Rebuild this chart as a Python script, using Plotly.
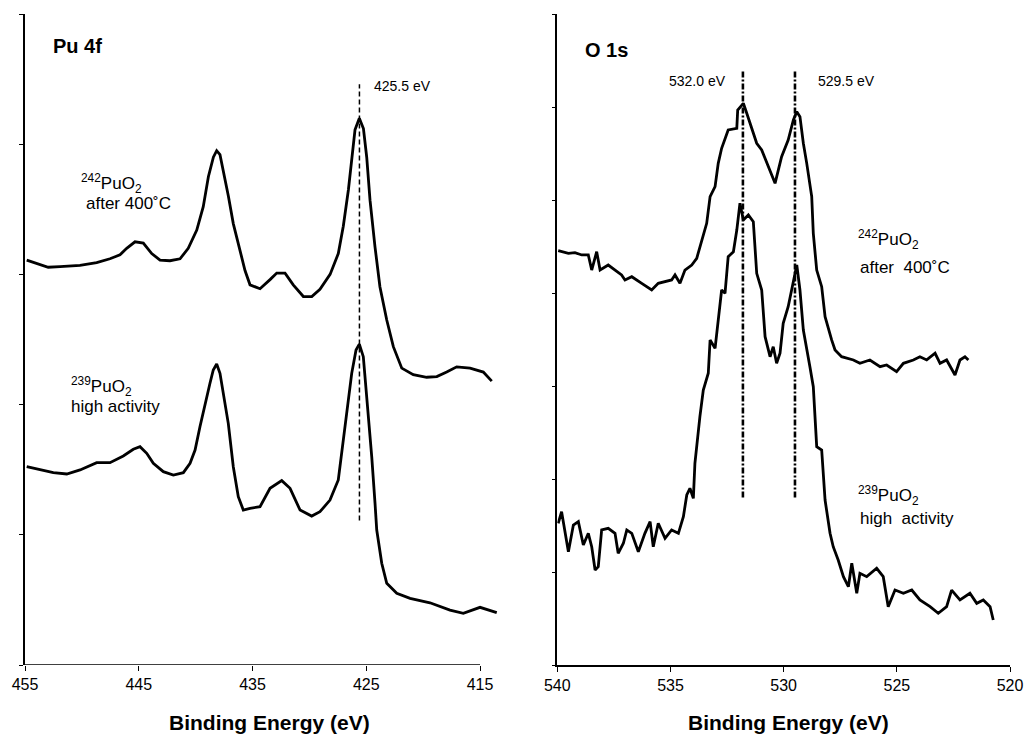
import plotly.graph_objects as go

# ---------------- Data ----------------
# Pu 4f panel
pu_242_E = [454.85, 453.97, 452.96, 451.92, 450.17, 448.70, 447.53, 446.65, 446.06, 445.33,
            444.60, 443.86, 443.13, 442.26, 441.37, 440.65, 439.90, 439.33, 438.88, 438.44,
            438.15, 437.86, 437.57, 437.12, 436.69, 436.10, 435.66, 435.22, 434.49, 434.34,
            433.46, 432.87, 432.14, 431.42, 430.53, 429.79, 429.07, 428.18, 427.46, 427.02,
            426.57, 426.28, 425.99, 425.61, 425.25, 424.96, 424.67, 424.23, 423.80, 423.20,
            422.62, 421.88, 420.87, 419.69, 418.80, 417.93, 417.05, 415.88, 414.71, 413.97]
pu_242_I = [3.11, 3.085, 3.055, 3.06, 3.07, 3.09, 3.12, 3.15, 3.20, 3.25,
            3.24, 3.16, 3.11, 3.105, 3.12, 3.20, 3.34, 3.52, 3.75, 3.90,
            3.95, 3.92, 3.80, 3.60, 3.39, 3.19, 3.03, 2.92, 2.89, 2.89,
            2.96, 3.01, 3.01, 2.92, 2.83, 2.83, 2.885, 3.00, 3.16, 3.37,
            3.65, 3.88, 4.11, 4.20, 4.12, 3.90, 3.57, 3.21, 2.905, 2.65,
            2.445, 2.28, 2.23, 2.21, 2.215, 2.25, 2.29, 2.28, 2.25, 2.18]

pu_239_E = [454.85, 453.68, 452.51, 451.33, 450.16, 448.70, 447.53, 446.36, 445.48, 444.89,
            444.30, 443.72, 442.84, 441.96, 441.08, 440.49, 440.05, 439.62, 439.18, 438.74,
            438.45, 438.15, 437.86, 437.57, 437.13, 436.69, 436.25, 435.81, 435.22, 434.34,
            433.46, 432.43, 431.70, 430.82, 429.80, 429.07, 428.19, 427.46, 427.02, 426.58,
            426.28, 425.90, 425.61, 425.26, 424.96, 424.52, 424.23, 424.08, 423.64, 423.20,
            422.32, 421.15, 419.40, 417.64, 416.47, 415.00, 413.53]
pu_239_I = [1.523, 1.498, 1.477, 1.467, 1.498, 1.554, 1.554, 1.605, 1.657, 1.677,
            1.626, 1.549, 1.485, 1.459, 1.477, 1.549, 1.651, 1.830, 2.010, 2.164,
            2.266, 2.312, 2.240, 2.087, 1.856, 1.523, 1.293, 1.190, 1.203, 1.216,
            1.357, 1.416, 1.357, 1.190, 1.144, 1.177, 1.267, 1.421, 1.728, 2.010,
            2.240, 2.419, 2.465, 2.368, 2.061, 1.600, 1.242, 1.037, 0.781, 0.627,
            0.551, 0.512, 0.478, 0.422, 0.397, 0.443, 0.402]

pu_peak_E = [425.6, 425.6]
pu_peak_I = [1.11, 4.46]

# O 1s panel
o_242_E = [539.96, 539.51, 539.22, 538.92, 538.63, 538.48, 538.26, 538.11, 537.75, 537.45,
           537.16, 537.01, 536.71, 536.27, 535.83, 535.54, 535.24, 534.95, 534.80, 534.58,
           534.36, 534.06, 533.84, 533.62, 533.40, 533.25, 533.03, 532.89, 532.74, 532.45,
           532.07, 532.03, 531.78, 531.63, 531.41, 531.19, 530.97, 530.68, 530.38, 530.09,
           529.80, 529.57, 529.42, 529.28, 529.13, 528.98, 528.76, 528.69, 528.54, 528.32,
           528.17, 527.88, 527.73, 527.44, 526.92, 526.63, 526.19, 525.74, 525.45, 525.01,
           524.71, 524.27, 523.98, 523.68, 523.31, 523.09, 522.80, 522.43, 522.21, 521.99,
           521.84]
o_242_I = [4.455, 4.427, 4.434, 4.409, 4.409, 4.247, 4.444, 4.247, 4.301, 4.247,
           4.194, 4.140, 4.175, 4.104, 4.032, 4.104, 4.122, 4.140, 4.194, 4.104,
           4.247, 4.301, 4.373, 4.570, 4.749, 5.036, 5.143, 5.394, 5.556, 5.753,
           5.771, 5.968, 6.040, 5.932, 5.771, 5.610, 5.538, 5.358, 5.179, 5.466,
           5.645, 5.860, 5.950, 5.896, 5.610, 5.394, 5.036, 4.642, 4.247, 4.068,
           3.745, 3.495, 3.387, 3.315, 3.280, 3.244, 3.280, 3.208, 3.226, 3.154,
           3.244, 3.280, 3.315, 3.280, 3.352, 3.244, 3.280, 3.118, 3.280, 3.315,
           3.280]

o_239_E = [539.96, 539.81, 539.51, 539.29, 539.07, 538.85, 538.63, 538.48, 538.33, 538.19,
           538.04, 537.75, 537.45, 537.31, 537.08, 536.93, 536.71, 536.42, 536.13, 535.90,
           535.76, 535.54, 535.24, 534.95, 534.65, 534.43, 534.28, 534.14, 533.99, 533.92,
           533.70, 533.55, 533.33, 533.25, 533.03, 532.89, 532.74, 532.59, 532.45, 532.22,
           532.07, 531.93, 531.78, 531.56, 531.34, 531.19, 530.97, 530.82, 530.60, 530.46,
           530.31, 530.16, 530.02, 529.80, 529.64, 529.42, 529.28, 529.13, 528.84, 528.69,
           528.54, 528.32, 528.17, 527.95, 527.81, 527.59, 527.36, 527.14, 526.99, 526.77,
           526.63, 526.33, 525.89, 525.60, 525.38, 525.08, 524.71, 524.34, 523.98, 523.53,
           523.17, 522.80, 522.58, 522.21, 521.77, 521.47, 521.18, 520.88, 520.74]
o_239_I = [1.524, 1.648, 1.218, 1.505, 1.541, 1.290, 1.416, 1.272, 1.022, 1.057,
           1.452, 1.470, 1.416, 1.201, 1.309, 1.452, 1.416, 1.218, 1.416, 1.541,
           1.272, 1.524, 1.362, 1.452, 1.416, 1.595, 1.828, 1.900, 1.792, 2.169,
           2.670, 2.957, 3.137, 3.495, 3.405, 3.745, 4.032, 3.997, 4.390, 4.444,
           4.677, 4.965, 4.785, 4.839, 4.767, 4.212, 4.032, 3.530, 3.315, 3.423,
           3.244, 3.352, 3.674, 3.853, 4.032, 4.301, 4.032, 3.602, 3.208, 2.993,
           2.348, 2.312, 1.774, 1.416, 1.272, 1.129, 0.950, 0.842, 1.094, 0.771,
           0.986, 0.950, 1.040, 0.950, 0.627, 0.806, 0.771, 0.806, 0.699, 0.627,
           0.556, 0.627, 0.806, 0.699, 0.771, 0.663, 0.699, 0.627, 0.484]

o_peak1_E = [531.8, 531.8]
o_peak2_E = [529.5, 529.5]
o_peak_I = [1.80, 6.40]

left_ticks = [455, 445, 435, 425, 415]
right_ticks = [540, 535, 530, 525, 520]

# ---------------- Figure ----------------
W, H = 1026, 735
FONT = "Arial, Liberation Sans, sans-serif"
LINE = dict(color="black", width=2.8)

fig = go.Figure()
fig.add_trace(go.Scatter(x=pu_242_E, y=pu_242_I, mode="lines", line=LINE, xaxis="x", yaxis="y"))
fig.add_trace(go.Scatter(x=pu_239_E, y=pu_239_I, mode="lines", line=LINE, xaxis="x", yaxis="y"))
fig.add_trace(go.Scatter(x=pu_peak_E, y=pu_peak_I, mode="lines",
                         line=dict(color="black", width=1.5, dash="5px,3px"), xaxis="x", yaxis="y"))
# x-axis baseline of left panel (stops at 415)
fig.add_trace(go.Scatter(x=[left_ticks[0], left_ticks[-1]], y=[0, 0], mode="lines",
                         line=dict(color="black", width=1.5), xaxis="x", yaxis="y", cliponaxis=False))

fig.add_trace(go.Scatter(x=o_242_E, y=o_242_I, mode="lines", line=LINE, xaxis="x2", yaxis="y2"))
fig.add_trace(go.Scatter(x=o_239_E, y=o_239_I, mode="lines", line=LINE, xaxis="x2", yaxis="y2"))
for pe in (o_peak1_E, o_peak2_E):
    fig.add_trace(go.Scatter(x=pe, y=o_peak_I, mode="lines",
                             line=dict(color="black", width=2.6, dash="6px,2px,2px,2px"),
                             xaxis="x2", yaxis="y2"))

ydom = [1 - 665 / H, 1 - 14 / H]
axis_common = dict(ticks="outside", tickcolor="black", tickwidth=1.2, showgrid=False, zeroline=False,
                   automargin=False, tickfont=dict(family=FONT, size=16, color="black"))

fig.update_layout(
    width=W, height=H, margin=dict(l=0, r=0, t=0, b=0, pad=0, autoexpand=False),
    paper_bgcolor="white", plot_bgcolor="white", showlegend=False,
    xaxis=dict(domain=[25 / W, 498 / W], range=[455, 413.42], tickvals=left_ticks,
               showline=False, ticklen=5, anchor="y", **axis_common),
    yaxis=dict(domain=ydom, range=[0, 5], dtick=1, tick0=0, showticklabels=False,
               showline=True, linecolor="black", linewidth=1.5, ticklen=4, anchor="x", **axis_common),
    xaxis2=dict(domain=[557.3 / W, 1010 / W], range=[540, 520], tickvals=right_ticks,
                showline=True, linecolor="black", linewidth=1.5, ticklen=5, anchor="y2", **axis_common),
    yaxis2=dict(domain=ydom, range=[0, 7], dtick=1, tick0=0, showticklabels=False,
                showline=True, linecolor="black", linewidth=1.5, ticklen=4, anchor="x2", **axis_common),
)

def ann(text, px, py, size=16, bold=False, xanchor="left"):
    fig.add_annotation(text=f"<b>{text}</b>" if bold else text, x=px / W, y=1 - py / H,
                       xref="paper", yref="paper", xanchor=xanchor, yanchor="middle",
                       showarrow=False, font=dict(family=FONT, size=size, color="black"))

NB = "\u00a0"
ann("Pu 4f", 51, 46, size=20, bold=True)
ann("O 1s", 583, 50, size=20, bold=True)
ann("425.5 eV", 372, 86, size=14)
ann("532.0 eV", 667, 81, size=14)
ann("529.5 eV", 816, 81, size=14)

ann("<sup>242</sup>PuO<sub>2</sub>", 79, 184, size=17)
ann("after 400˚C", 84, 203, size=17)
ann("<sup>239</sup>PuO<sub>2</sub>", 69, 386, size=17)
ann("high activity", 69, 406, size=17)

ann("<sup>242</sup>PuO<sub>2</sub>", 856, 239, size=17)
ann(f"after {NB}400˚C", 858, 267, size=17)
ann("<sup>239</sup>PuO<sub>2</sub>", 856, 496, size=17)
ann(f"high {NB}activity", 858, 518, size=17)

ann("Binding Energy (eV)", 269, 722, size=21, bold=True, xanchor="center")
ann("Binding Energy (eV)", 788, 722, size=21, bold=True, xanchor="center")

fig.write_html("out.html")
